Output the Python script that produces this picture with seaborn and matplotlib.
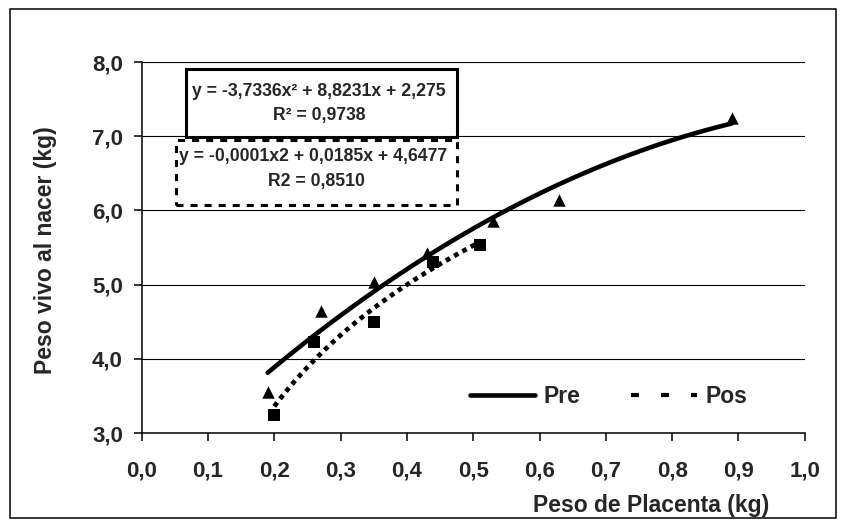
import numpy as np
import pandas as pd
import matplotlib
matplotlib.use("Agg")
import matplotlib.pyplot as plt
import seaborn as sns
from matplotlib.lines import Line2D
from matplotlib.patches import Rectangle

# ---- data ----
pre_x = [0.19, 0.27, 0.35, 0.43, 0.53, 0.63, 0.89]
pre_y = [3.55, 4.64, 5.04, 5.43, 5.86, 6.14, 7.25]
pos_x = [0.20, 0.26, 0.35, 0.44, 0.51]
pos_y = [3.24, 4.23, 4.50, 5.31, 5.54]
series_names = ["Pre", "Pos"]
x_ticks = [0.0, 0.1, 0.2, 0.3, 0.4, 0.5, 0.6, 0.7, 0.8, 0.9, 1.0]
x_tick_labels = ["0,0", "0,1", "0,2", "0,3", "0,4", "0,5", "0,6", "0,7", "0,8", "0,9", "1,0"]
y_ticks = [3, 4, 5, 6, 7, 8]
y_tick_labels = ["3,0", "4,0", "5,0", "6,0", "7,0", "8,0"]
eq_pre = ["y = -3,7336x² + 8,8231x + 2,275", "R² = 0,9738"]
eq_pos = ["y = -0,0001x2 + 0,0185x + 4,6477", "R2 = 0,8510"]
x_label = "Peso de Placenta (kg)"
y_label = "Peso vivo al nacer (kg)"

sns.set_style("white")
plt.rcParams["font.family"] = ["Liberation Sans", "DejaVu Sans"]
plt.rcParams["font.weight"] = "bold"

fig = plt.figure(figsize=(8.42, 5.25), dpi=100)
ax = fig.add_axes([0.1683, 0.1752, 0.7874, 0.7067])

sns.regplot(x=pre_x, y=pre_y, order=2, ci=None, marker="^", color="black",
            scatter_kws=dict(s=80, linewidths=0, alpha=1, zorder=4),
            line_kws=dict(lw=3.3, solid_capstyle="round", zorder=3), ax=ax)
sns.regplot(x=pos_x, y=pos_y, logx=True, ci=None, marker="s", color="black",
            scatter_kws=dict(s=70, linewidths=0, alpha=1, zorder=4),
            line_kws=dict(lw=3.4, linestyle=(0, (1.0, 1.0)), dash_capstyle="butt", zorder=3),
            ax=ax)

ax.set_xlim(0, 1)
ax.set_ylim(3, 8)
ax.set_xticks(x_ticks)
ax.set_xticklabels(x_tick_labels)
ax.set_yticks(y_ticks)
ax.set_yticklabels(y_tick_labels)
ax.tick_params(axis="both", direction="out", length=5.5, width=1.1, color="black",
               labelsize=16, bottom=True, left=True)
ax.tick_params(axis="x", pad=14)
ax.tick_params(axis="y", pad=8)
for lab in ax.get_xticklabels() + ax.get_yticklabels():
    lab.set_fontweight("bold")

ax.spines["top"].set_visible(False)
ax.spines["right"].set_visible(False)
for s in ("left", "bottom"):
    ax.spines[s].set_color("black")
    ax.spines[s].set_linewidth(1.1)
ax.yaxis.grid(True, color="black", lw=0.8)
ax.xaxis.grid(False)
ax.set_axisbelow(True)

ax.set_xlabel(x_label, fontsize=16.5, fontweight="bold")
ax.set_ylabel(y_label, fontsize=16.5, fontweight="bold")
ax.xaxis.set_label_coords(0.768, -0.165)
ax.yaxis.set_label_coords(-0.128, 0.493)

# legend
h_pre = Line2D([], [], color="black", lw=3.3)
h_pos = Line2D([], [], color="black", lw=3.0, linestyle=(0, (1.9, 5.3)), dash_capstyle="butt")
ax.legend([h_pre, h_pos], series_names, loc="center left", bbox_to_anchor=(0.495, 0.0997),
          ncol=2, frameon=False, handlelength=2.85, handletextpad=0.37, columnspacing=2.22,
          borderpad=0, borderaxespad=0, prop=dict(weight="bold", size=16.5))

# equation boxes
ax.add_patch(Rectangle((0.0668, 0.798), 0.4088, 0.183, transform=ax.transAxes,
                       facecolor="white", edgecolor="black", lw=2.2, zorder=5, clip_on=False))
ax.add_patch(Rectangle((0.0517, 0.6146), 0.4239, 0.1754, transform=ax.transAxes,
                       facecolor="white", edgecolor="black", lw=2.2, zorder=5, clip_on=False,
                       linestyle=(0, (2.3, 2.3))))
ax.text(0.2674, 0.920, eq_pre[0], transform=ax.transAxes, ha="center", va="center",
        fontsize=12.7, fontweight="bold", zorder=6)
ax.text(0.2674, 0.857, eq_pre[1], transform=ax.transAxes, ha="center", va="center",
        fontsize=12.7, fontweight="bold", zorder=6)
ax.text(0.258, 0.745, eq_pos[0], transform=ax.transAxes, ha="center", va="center",
        fontsize=12.7, fontweight="bold", zorder=6)
ax.text(0.263, 0.677, eq_pos[1], transform=ax.transAxes, ha="center", va="center",
        fontsize=12.7, fontweight="bold", zorder=6)

# chart-area border
fig.patches.append(Rectangle((10 / 842, 1 - 518 / 525), 826 / 842, 509 / 525,
                             transform=fig.transFigure, fill=False, edgecolor="black", lw=1.1))

fig.savefig("out.png", dpi=100)
